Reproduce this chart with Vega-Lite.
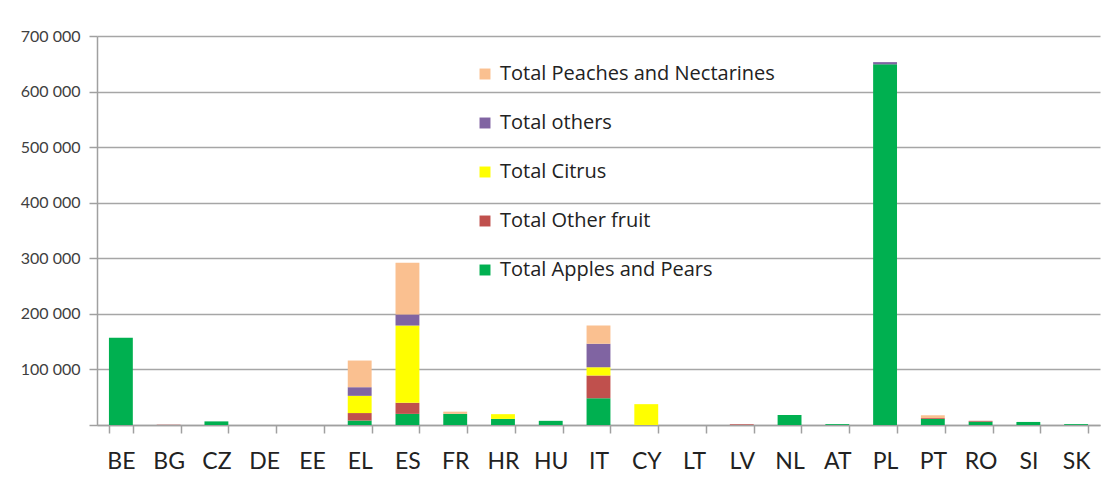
{
  "$schema": "https://vega.github.io/schema/vega-lite/v6.json",
  "width": 1003,
  "height": 389,
  "autosize": "none",
  "padding": {"left": 97, "top": 36, "right": 18, "bottom": 59},
  "background": "white",
  "title": {"text": "Situation at end 2015", "fontSize": 12, "fontWeight": "bold", "font": "Lato", "color": "#333333", "offset": 30, "anchor": "middle", "dx": -25},
  "config": {
    "view": {"stroke": null},
    "font": "Lato"
  },
  "data": {
    "values": [
      {"country": "BE", "type": "Total Apples and Pears", "k": 1, "value": 157000},
      {"country": "BG", "type": "Total Other fruit", "k": 2, "value": 500},
      {"country": "CZ", "type": "Total Apples and Pears", "k": 1, "value": 6500},
      {"country": "DE", "type": "Total Apples and Pears", "k": 1, "value": 0},
      {"country": "EE", "type": "Total Apples and Pears", "k": 1, "value": 0},
      {"country": "EL", "type": "Total Apples and Pears", "k": 1, "value": 8000},
      {"country": "EL", "type": "Total Other fruit", "k": 2, "value": 13500},
      {"country": "EL", "type": "Total Citrus", "k": 3, "value": 31000},
      {"country": "EL", "type": "Total others", "k": 4, "value": 15500},
      {"country": "EL", "type": "Total Peaches and Nectarines", "k": 5, "value": 48000},
      {"country": "ES", "type": "Total Apples and Pears", "k": 1, "value": 20000},
      {"country": "ES", "type": "Total Other fruit", "k": 2, "value": 20000},
      {"country": "ES", "type": "Total Citrus", "k": 3, "value": 139000},
      {"country": "ES", "type": "Total others", "k": 4, "value": 20000},
      {"country": "ES", "type": "Total Peaches and Nectarines", "k": 5, "value": 93000},
      {"country": "FR", "type": "Total Apples and Pears", "k": 1, "value": 20000},
      {"country": "FR", "type": "Total Peaches and Nectarines", "k": 5, "value": 4000},
      {"country": "HR", "type": "Total Apples and Pears", "k": 1, "value": 11000},
      {"country": "HR", "type": "Total Citrus", "k": 3, "value": 8500},
      {"country": "HU", "type": "Total Apples and Pears", "k": 1, "value": 7500},
      {"country": "IT", "type": "Total Apples and Pears", "k": 1, "value": 48000},
      {"country": "IT", "type": "Total Other fruit", "k": 2, "value": 41000},
      {"country": "IT", "type": "Total Citrus", "k": 3, "value": 15000},
      {"country": "IT", "type": "Total others", "k": 4, "value": 42000},
      {"country": "IT", "type": "Total Peaches and Nectarines", "k": 5, "value": 33000},
      {"country": "CY", "type": "Total Citrus", "k": 3, "value": 37500},
      {"country": "LT", "type": "Total Apples and Pears", "k": 1, "value": 0},
      {"country": "LV", "type": "Total Other fruit", "k": 2, "value": 1200},
      {"country": "NL", "type": "Total Apples and Pears", "k": 1, "value": 18000},
      {"country": "AT", "type": "Total Apples and Pears", "k": 1, "value": 1500},
      {"country": "PL", "type": "Total Apples and Pears", "k": 1, "value": 649000},
      {"country": "PL", "type": "Total others", "k": 4, "value": 4000},
      {"country": "PT", "type": "Total Apples and Pears", "k": 1, "value": 11000},
      {"country": "PT", "type": "Total Other fruit", "k": 2, "value": 1500},
      {"country": "PT", "type": "Total Peaches and Nectarines", "k": 5, "value": 5000},
      {"country": "RO", "type": "Total Apples and Pears", "k": 1, "value": 6000},
      {"country": "RO", "type": "Total Other fruit", "k": 2, "value": 1500},
      {"country": "SI", "type": "Total Apples and Pears", "k": 1, "value": 5500},
      {"country": "SK", "type": "Total Apples and Pears", "k": 1, "value": 1500}
    ]
  },
  "mark": {"type": "bar"},
  "encoding": {
    "x": {
      "field": "country",
      "type": "nominal",
      "sort": ["BE","BG","CZ","DE","EE","EL","ES","FR","HR","HU","IT","CY","LT","LV","NL","AT","PL","PT","RO","SI","SK"],
      "scale": {"paddingInner": 0.5, "paddingOuter": 0.25},
      "axis": {
        "title": null,
        "labelAngle": 0,
        "labelFontSize": 23,
        "labelColor": "#222222",
        "labelPadding": 17,
        "tickBand": "extent",
        "tickSize": 8,
        "tickColor": "#a0a0a0",
        "tickWidth": 1.5,
        "domainColor": "#a0a0a0",
        "domainWidth": 1.5,
        "grid": false
      }
    },
    "y": {
      "field": "value",
      "type": "quantitative",
      "stack": "zero",
      "scale": {"domain": [0, 700000], "nice": false},
      "axis": {
        "title": null,
        "values": [0, 100000, 200000, 300000, 400000, 500000, 600000, 700000],
        "labelExpr": "datum.value == 0 ? '' : replace(format(datum.value, ','), /,/g, ' ')",
        "labelFontSize": 16,
        "labelColor": "#404040",
        "labelPadding": 9,
        "tickSize": 8,
        "tickColor": "#a0a0a0",
        "tickWidth": 1.5,
        "domainColor": "#a0a0a0",
        "domainWidth": 1.5,
        "grid": true,
        "gridColor": "#a6a6a6",
        "gridWidth": 1.5
      }
    },
    "color": {
      "field": "type",
      "type": "nominal",
      "scale": {
        "domain": ["Total Peaches and Nectarines", "Total others", "Total Citrus", "Total Other fruit", "Total Apples and Pears"],
        "range": ["#FAC090", "#8064A2", "#FFFF00", "#C0504D", "#00B050"]
      },
      "legend": {
        "title": null,
        "orient": "none",
        "legendX": 378,
        "legendY": 28,
        "symbolType": "square",
        "symbolSize": 120,
        "symbolStrokeWidth": 0,
        "labelFont": "Open Sans",
        "labelFontSize": 20,
        "labelColor": "#222222",
        "labelOffset": 5,
        "rowPadding": 29,
        "labelLimit": 400
      }
    },
    "order": {"field": "k", "type": "quantitative", "sort": "ascending"}
  }
}
